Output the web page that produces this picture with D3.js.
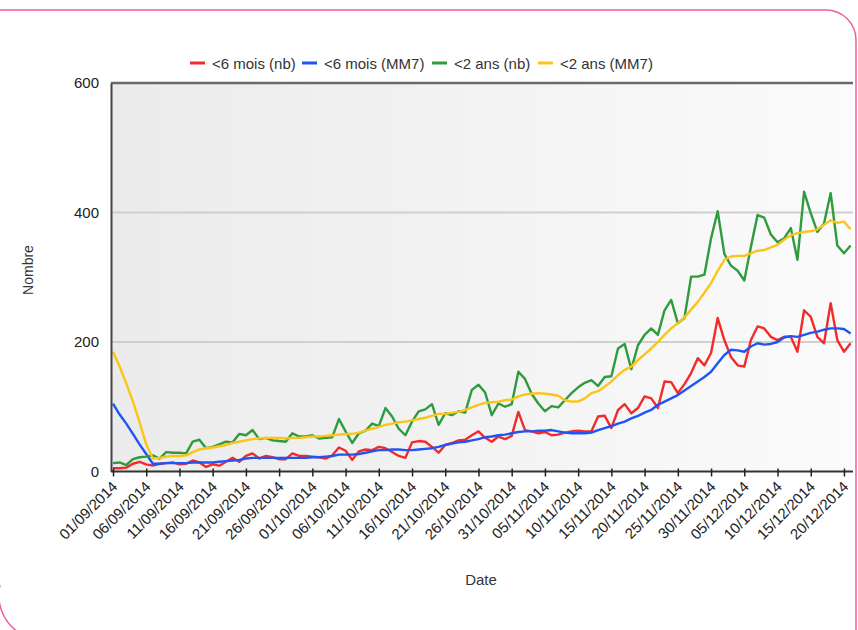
<!DOCTYPE html>
<html><head><meta charset="utf-8">
<script src="https://cdn.jsdelivr.net/npm/d3@7"></script>
<style>
html,body{margin:0;padding:0;background:#fff;}
svg{display:block;font-family:"Liberation Sans",Arial,sans-serif;}
</style></head>
<body>
<svg id="chart" width="858" height="630"></svg>
<script>
const startDate = "01/09/2014";
const endDate = "21/12/2014";
const tickLabels = ["01/09/2014","06/09/2014","11/09/2014","16/09/2014","21/09/2014","26/09/2014","01/10/2014","06/10/2014","11/10/2014","16/10/2014","21/10/2014","26/10/2014","31/10/2014","05/11/2014","10/11/2014","15/11/2014","20/11/2014","25/11/2014","30/11/2014","05/12/2014","10/12/2014","15/12/2014","20/12/2014"];
const yTicks = [0, 200, 400, 600];
const seriesNames = ["<6 mois (nb)", "<6 mois (MM7)", "<2 ans (nb)", "<2 ans (MM7)"];
const seriesColors = ["#f42a2a", "#1f55f5", "#2e9b3c", "#fcc419"];

const moins6nb = [5,5,6,12,15,11,9,12,13,14,11,12,17,14,7,11,9,15,21,15,24,28,20,24,22,19,19,28,24,24,23,22,20,25,37,32,18,31,34,33,38,36,30,24,21,45,47,46,38,29,41,44,48,49,56,62,52,46,54,50,55,92,64,62,59,61,56,57,60,62,63,62,62,85,86,67,95,104,90,98,116,113,98,139,138,121,135,152,175,164,183,237,203,177,164,162,203,224,221,208,203,208,208,185,249,239,208,198,260,203,185,198];
const moins6mm7 = [105,88,74,58,42,27,12,12,13,13,13,13,14,14,14,14,15,16,17,18,20,21,21,21,21,21,21,21,21,21,22,22,23,24,26,26,26,27,29,31,33,33,34,34,33,33,34,35,36,38,41,43,45,46,48,50,53,54,56,57,59,61,62,62,63,63,64,62,60,59,59,59,60,64,67,70,74,77,82,86,91,95,103,108,113,118,125,132,139,146,154,167,180,188,187,185,193,198,196,197,200,207,209,208,211,214,216,219,221,221,220,213];
const moins2nb = [13,14,10,19,22,23,25,20,30,29,29,28,46,49,36,38,42,46,45,58,56,64,50,52,48,47,46,59,54,54,56,51,52,53,81,62,44,59,63,74,70,98,85,66,56,77,93,96,104,72,90,87,93,91,126,134,122,87,105,100,104,154,143,120,105,93,101,99,110,121,130,137,141,132,146,147,190,197,158,195,211,221,211,249,265,229,237,301,301,304,360,402,336,318,310,295,347,396,392,366,354,360,376,327,432,399,370,383,430,349,337,349];
const moins2mm7 = [185,162,136,108,76,42,20,21,23,24,24,25,30,34,36,37,39,41,44,46,48,50,51,52,52,52,51,52,52,53,54,54,55,56,57,58,58,60,63,66,69,72,74,76,77,79,81,83,86,89,89,91,92,95,99,103,106,107,108,110,111,116,119,120,121,120,119,117,110,108,108,113,121,124,131,139,149,157,162,172,181,190,200,211,221,229,238,250,262,276,291,310,327,332,333,333,337,341,342,346,350,358,365,368,370,371,374,381,388,384,386,374];

const seriesValues = [moins6nb, moins6mm7, moins2nb, moins2mm7];

const parse = d3.utcParse("%d/%m/%Y");
const fmt = d3.utcFormat("%d/%m/%Y");
const dates = d3.utcDay.range(parse(startDate), d3.utcDay.offset(parse(endDate), 1));

const svg = d3.select("#chart");

// pink frame
svg.append("path")
  .attr("d", "M0,10 L826,10 A30,30 0 0 1 856,40 L856,632")
  .attr("fill", "none").attr("stroke", "#ec5fa0").attr("stroke-width", 1.5);
svg.append("path")
  .attr("d", "M0,585 A45,45 0 0 0 18,632")
  .attr("fill", "none").attr("stroke", "#ec5fa0").attr("stroke-width", 1.5);

const plot = {left: 111, right: 853, top: 83, bottom: 471.5};
const x = d3.scaleUtc().domain([dates[0], dates[dates.length - 1]]).range([113, 850.6]);
const y = d3.scaleLinear().domain([0, 600]).range([plot.bottom, plot.top]);

const defs = svg.append("defs");
const grad = defs.append("linearGradient").attr("id", "bg").attr("x1", "0").attr("x2", "1").attr("y1", "0").attr("y2", "0");
grad.append("stop").attr("offset", "0").attr("stop-color", "#ebebeb");
grad.append("stop").attr("offset", "1").attr("stop-color", "#fbfbfb");

svg.append("rect").attr("x", plot.left).attr("y", plot.top)
  .attr("width", plot.right - plot.left).attr("height", plot.bottom - plot.top)
  .attr("fill", "url(#bg)");

// gridlines
svg.append("g").selectAll("line").data(yTicks.filter(v => v > 0 && v < 600)).join("line")
  .attr("x1", plot.left).attr("x2", plot.right)
  .attr("y1", d => y(d)).attr("y2", d => y(d))
  .attr("stroke", "#cfcfcf").attr("stroke-width", 2);

// top border
svg.append("line").attr("x1", plot.left).attr("x2", plot.right)
  .attr("y1", y(600)).attr("y2", y(600)).attr("stroke", "#6a6a6a").attr("stroke-width", 2.5);

// lines
const line = d3.line().x((d, i) => x(dates[i])).y(d => y(d));
seriesValues.forEach((vals, k) => {
  svg.append("path").datum(vals).attr("d", line)
    .attr("fill", "none").attr("stroke", seriesColors[k])
    .attr("stroke-width", 2.4).attr("stroke-linejoin", "round");
});

// y axis
const yAxis = d3.axisLeft(y).tickValues(yTicks).tickSize(0).tickPadding(12);
const gy = svg.append("g").attr("transform", `translate(${plot.left},0)`).call(yAxis);
gy.select(".domain").attr("stroke", "#444").attr("stroke-width", 2);
gy.selectAll("text").attr("font-size", 15).attr("fill", "#222")
  .attr("font-family", "Liberation Sans, Arial, sans-serif");

// x axis
const tickDates = tickLabels.map(parse);
const xAxis = d3.axisBottom(x).tickValues(tickDates).tickFormat(fmt).tickSize(5).tickSizeOuter(0);
const gx = svg.append("g").attr("transform", `translate(0,${plot.bottom})`).call(xAxis);
gx.select(".domain").attr("stroke", "#333").attr("stroke-width", 2).attr("d", `M${plot.left},0H${plot.right}`);
gx.selectAll(".tick line").attr("stroke", "#222").attr("stroke-width", 1.5).attr("y1", -3);
gx.selectAll("text")
  .attr("font-size", 15).attr("fill", "#222")
  .attr("font-family", "Liberation Sans, Arial, sans-serif")
  .attr("text-anchor", "end")
  .attr("y", 0).attr("dy", 0)
  .attr("transform", "translate(5,16) rotate(-45)");

// axis titles
svg.append("text").attr("x", 481).attr("y", 585).attr("text-anchor", "middle")
  .attr("font-size", 15).attr("fill", "#333").text("Date");
svg.append("text").attr("transform", "translate(33,270) rotate(-90)").attr("text-anchor", "middle")
  .attr("font-size", 14).attr("fill", "#333").text("Nombre");

// legend
const legendX = [190, 302, 432, 538];
const lg = svg.append("g");
seriesNames.forEach((name, k) => {
  lg.append("line").attr("x1", legendX[k]).attr("x2", legendX[k] + 15)
    .attr("y1", 63).attr("y2", 63).attr("stroke", seriesColors[k]).attr("stroke-width", 3);
  lg.append("text").attr("x", legendX[k] + 22).attr("y", 68.5)
    .attr("font-size", 15).attr("fill", "#333").text(name);
});
</script>
</body></html>
